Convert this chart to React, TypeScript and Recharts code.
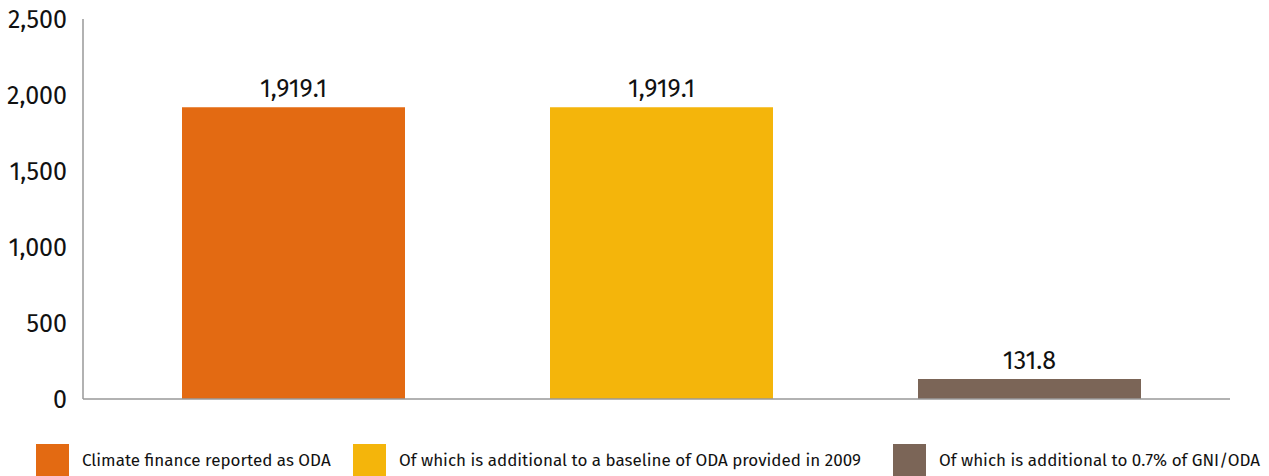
import React from "react";
import { BarChart, Bar, XAxis, YAxis, Cell, LabelList } from "recharts";

const categories = [
  "Climate finance reported as ODA",
  "Of which is additional to a baseline of ODA provided in 2009",
  "Of which is additional to 0.7% of GNI/ODA",
];
const values = [1919.1, 1919.1, 131.8];
const colors = ["#E36A12", "#F4B50B", "#7B6557"];
const yTicks = [0, 500, 1000, 1500, 2000, 2500];

const data = categories.map((name, i) => ({ name, value: values[i] }));

const FONT = "'Fira Sans', Lato, 'Noto Sans', sans-serif";

const fmt = (v: number) =>
  v.toLocaleString("en-US", { minimumFractionDigits: 0, maximumFractionDigits: 1 });
const fmtLabel = (v: number) =>
  v.toLocaleString("en-US", { minimumFractionDigits: 1, maximumFractionDigits: 1 });

const itemWidths = [317, 540, 376];

const LegendBlock = () => (
  <div style={{ position: "absolute", left: 36, top: 444, display: "flex", fontFamily: FONT }}>
    {categories.map((c, i) => (
      <div key={c} style={{ display: "flex", alignItems: "center", width: itemWidths[i], height: 33 }}>
        <div style={{ width: 33, height: 33, background: colors[i], flex: "none" }} />
        <span style={{ marginLeft: 13, fontSize: 17, fontWeight: 400, lineHeight: "20px", color: "#111", whiteSpace: "nowrap" }}>{c}</span>
      </div>
    ))}
  </div>
);

export default function App() {
  return (
    <div style={{ position: "absolute", left: 0, top: 0, width: 1269, height: 476, background: "#fff", overflow: "hidden" }}>
      <BarChart
        width={1269}
        height={476}
        data={data}
        margin={{ top: 19, right: 39, bottom: 76, left: 0 }}
      >
        <XAxis
          dataKey="name"
          tick={false}
          tickLine={false}
          axisLine={{ stroke: "#999", strokeWidth: 1.5 }}
          padding={{ left: 26, right: 17 }}
          height={1}
        />
        <YAxis
          domain={[0, 2500]}
          ticks={yTicks}
          width={83}
          tickLine={false}
          tickSize={0}
          tickMargin={16}
          tickFormatter={fmt}
          axisLine={{ stroke: "#999", strokeWidth: 1.5 }}
          tick={{ fill: "#111", fontSize: 25, fontWeight: 400, fontFamily: FONT }}
        />
        <Bar dataKey="value" barSize={223} isAnimationActive={false}>
          {data.map((d, i) => (
            <Cell key={d.name} fill={colors[i]} />
          ))}
          <LabelList
            dataKey="value"
            position="top"
            offset={10}
            formatter={(v: number) => fmtLabel(v)}
            style={{ fill: "#111", fontSize: 25, fontWeight: 400, fontFamily: FONT }}
          />
        </Bar>
      </BarChart>
      <LegendBlock />
    </div>
  );
}
